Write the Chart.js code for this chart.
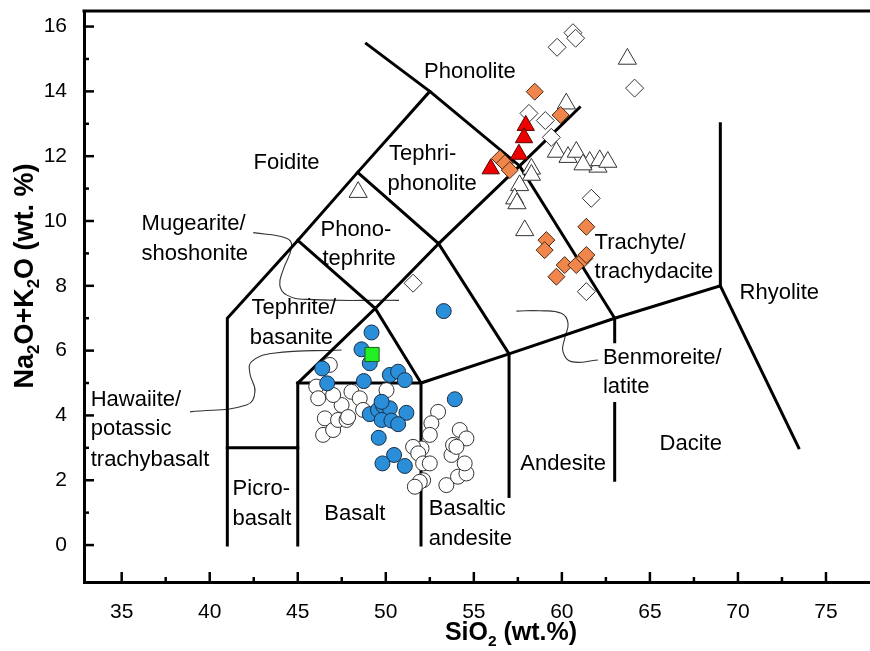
<!DOCTYPE html>
<html><head><meta charset="utf-8">
<script src="https://cdn.jsdelivr.net/npm/chart.js@4"></script>
<style>html,body{margin:0;padding:0;background:#fff}#wrap{width:870px;height:651px;position:relative}</style>
</head><body><div id="wrap"><canvas id="c"></canvas></div>
<script>
// ---------- axis ticks ----------
const xTicks = [35,40,45,50,55,60,65,70,75];
const yTicks = [0,2,4,6,8,10,12,14,16];
const xMinorTicks = [37.5,42.5,47.5,52.5,57.5,62.5,67.5,72.5];
const yMinorTicks = [1,3,5,7,9,11,13,15];

// ---------- sample series (SiO2, Na2O+K2O) ----------
const whiteCircles = [
 [46.82,5.56],[46.05,4.89],[46.16,4.53],[46.54,3.91],[46.44,3.40],[47.01,3.55],[47.29,3.86],[47.77,3.86],
 [47.49,4.32],[48.05,4.73],[48.52,4.53],[48.71,4.17],[47.01,4.63],[50.04,4.78],[47.86,3.95],
 [52.97,4.11],[52.59,3.76],[52.50,3.40],[52.03,2.98],[51.55,3.03],[51.84,2.83],[52.12,2.52],[52.50,2.52],
 [52.12,2.00],[51.93,1.95],[51.65,1.80],[53.44,1.85],[54.10,2.11],[54.58,2.21],[54.48,2.52],[53.73,2.78],
 [53.82,3.09],[54.20,3.55],[54.58,3.29],[54.01,3.03]
];
const blueCircles = [
 [53.29,7.22],[49.19,6.56],[48.62,6.04],[49.09,5.61],[46.39,5.45],[46.67,4.99],[48.75,5.06],[50.23,5.25],
 [50.70,5.35],[51.08,5.09],[49.09,4.04],[49.56,4.17],[49.85,4.29],[50.23,4.22],[51.17,4.08],[49.76,3.86],
 [50.32,3.84],[50.70,3.73],[49.60,3.31],[50.47,2.78],[49.81,2.52],[51.08,2.44],[53.92,4.50],[49.76,4.42]
];
const greenSquares = [[49.22,5.88]];
const whiteDiamonds = [
 [59.73,15.36],[60.63,15.81],[60.78,15.64],[64.13,14.10],[58.13,13.32],[59.06,13.10],[59.40,12.58],
 [61.67,10.70],[61.39,7.82],[51.55,8.08]
];
const orangeDiamonds = [
 [58.46,13.99],[59.93,13.27],[56.48,11.93],[56.76,11.78],[57.04,11.57],[61.39,9.82],[59.12,9.41],
 [59.02,9.10],[60.16,8.64],[59.69,8.28],[60.82,8.64],[61.29,8.85],[61.39,8.95]
];
const whiteTriangles = [
 [63.72,15.00],[60.25,13.62],[59.69,12.13],[60.35,11.97],[60.82,12.13],[61.58,11.82],[62.05,11.67],[62.15,11.87],
 [62.61,11.82],[61.20,11.74],[58.27,11.61],[58.27,11.42],[57.60,11.10],[57.32,10.69],[57.45,10.54],
 [57.89,9.71],[48.43,10.89]
];
const redTriangles = [[57.95,12.95],[57.85,12.57],[57.56,12.06],[55.96,11.61]];

// ---------- TAS field boundaries ----------
const fieldLines = [
 [[41,0],[41,7],[45,9.4],[48.4,11.5],[52.5,14],[48.9,15.47]],
 [[41,3],[45,3]],
 [[45,0],[45,5],[52,5],[52,0]],
 [[45,5],[49.4,7.3],[52,5]],
 [[45,9.4],[49.4,7.3],[53,9.3],[57,5.9]],
 [[48.4,11.5],[53,9.3],[57.6,11.7],[61,13.5]],
 [[52.5,14],[57.6,11.7],[63,7]],
 [[52,5],[57,5.9],[63,7],[69,8],[73.45,3]],
 [[57,1.5],[57,5.9]],
 [[63,7],[63,6.27]],
 [[63,4.37],[63,2]],
 [[69,8],[69,13]]
];
// ---------- leader curves ----------
const leaderMugearite = [[42.47,9.64],[44.36,9.47],[44.65,9.21],[44.17,8.49],[43.98,8.02],[44.36,7.72],[45.5,7.58],[50.75,7.55]];
const leaderHawaiite = [[38.88,4.11],[42.09,4.32],[42.57,4.73],[42.28,5.30],[42.38,5.66],[43.6,5.92],[47.49,6.02]];
const leaderBenmoreite = [[62.05,5.71],[60.54,5.66],[60.06,5.97],[60.16,6.38],[60.35,6.84],[59.97,7.15],[58.74,7.23],[57.42,7.22]];

// ---------- field names: [text, x, y, align] ----------
const fieldLabels = [
 ['Phonolite',54.78,14.61,'center'],
 ['Foidite',44.36,11.78,'center'],
 ['Tephri-',50.18,12.08,'left'],
 ['phonolite',50.10,11.15,'left'],
 ['Phono-',46.29,9.72,'left'],
 ['tephrite',46.40,8.83,'left'],
 ['Mugearite/',36.13,9.91,'left'],
 ['shoshonite',36.13,8.98,'left'],
 ['Tephrite/',42.38,7.31,'left'],
 ['basanite',42.28,6.38,'left'],
 ['Hawaiite/',33.24,4.49,'left'],
 ['potassic',33.24,3.57,'left'],
 ['trachybasalt',33.24,2.63,'left'],
 ['Picro-',41.30,1.72,'left'],
 ['basalt',41.30,0.81,'left'],
 ['Basalt',48.24,0.96,'center'],
 ['Basaltic',52.44,1.12,'left'],
 ['andesite',52.44,0.19,'left'],
 ['Andesite',57.64,2.51,'left'],
 ['Dacite',65.55,3.12,'left'],
 ['Trachyte/',61.86,9.32,'left'],
 ['trachydacite',61.86,8.43,'left'],
 ['Rhyolite',70.09,7.79,'left'],
 ['Benmoreite/',62.33,5.77,'left'],
 ['latite',62.33,4.88,'left']
];

const FONT = '"Liberation Sans", Arial, Helvetica, sans-serif';
const toXY = a => a.map(p => ({x:p[0], y:p[1]}));

function pts(data, style, r, bg, bc, order){
  return {type:'scatter', data:toXY(data), showLine:false, pointStyle:style, pointRadius:r,
    pointHoverRadius:r, pointBackgroundColor:bg, pointBorderColor:bc, pointBorderWidth:1, order:order};
}
const datasets = [
  pts(greenSquares,'rect',10,'#22f022','#1d5e1d',1),
  pts(blueCircles,'circle',7.5,'#2a8fd8','#1b2f45',2),
  pts(redTriangles,'triangle',10,'#ee0000','#5a0000',3),
  pts(orangeDiamonds,'rectRot',8.5,'#f0864c','#4a2a14',4),
  pts(whiteTriangles,'triangle',10.5,'#ffffff','#333333',5),
  pts(whiteDiamonds,'rectRot',9,'#ffffff','#333333',6),
  pts(whiteCircles,'circle',7.5,'#ffffff','#333333',7)
];
fieldLines.forEach(l => datasets.push({type:'scatter', data:toXY(l), showLine:true, borderColor:'#000',
  borderWidth:3, pointRadius:0, tension:0, order:20, borderCapStyle:'square', borderJoinStyle:'miter'}));
[leaderMugearite, leaderHawaiite, leaderBenmoreite].forEach(l => datasets.push({type:'scatter', data:toXY(l),
  showLine:true, borderColor:'#333', borderWidth:1.1, pointRadius:0, tension:0.45, order:21}));

const decor = {
  id:'decor',
  afterDraw(chart){
    const ctx = chart.ctx, a = chart.chartArea, xs = chart.scales.x, ys = chart.scales.y;
    ctx.save();
    ctx.strokeStyle = '#000'; ctx.lineWidth = 2.5; ctx.lineCap='butt';
    ctx.beginPath(); ctx.lineWidth = 3; ctx.moveTo(a.left-1.5, a.top); ctx.lineTo(a.right, a.top); ctx.stroke();
    ctx.lineWidth = 2.5;
    yTicks.forEach(v => { const p = ys.getPixelForValue(v); ctx.beginPath(); ctx.moveTo(a.left, p); ctx.lineTo(a.left+10, p); ctx.stroke(); });
    yMinorTicks.forEach(v => { const p = ys.getPixelForValue(v); ctx.beginPath(); ctx.moveTo(a.left, p); ctx.lineTo(a.left+5, p); ctx.stroke(); });
    xTicks.forEach(v => { const p = xs.getPixelForValue(v); ctx.beginPath(); ctx.moveTo(p, a.bottom); ctx.lineTo(p, a.bottom-10); ctx.stroke(); });
    xMinorTicks.forEach(v => { const p = xs.getPixelForValue(v); ctx.beginPath(); ctx.moveTo(p, a.bottom); ctx.lineTo(p, a.bottom-5); ctx.stroke(); });
    ctx.fillStyle = '#000'; ctx.font = '22px ' + FONT; ctx.textBaseline = 'middle';
    fieldLabels.forEach(l => { ctx.textAlign = l[3]; ctx.fillText(l[0], xs.getPixelForValue(l[1]), ys.getPixelForValue(l[2])); });
    function rich(parts, size, cx, cy, rot){
      ctx.save(); ctx.translate(cx, cy); if (rot) ctx.rotate(rot);
      ctx.textAlign='left'; ctx.textBaseline='alphabetic';
      let w = 0;
      parts.forEach(p => { ctx.font = 'bold ' + (p[1] ? size*0.62 : size) + 'px ' + FONT; w += ctx.measureText(p[0]).width; });
      let x = -w/2;
      parts.forEach(p => { ctx.font = 'bold ' + (p[1] ? size*0.62 : size) + 'px ' + FONT;
        ctx.fillText(p[0], x, p[1] ? size*0.22 : 0); x += ctx.measureText(p[0]).width; });
      ctx.restore();
    }
    rich([['Na',0],['2',1],['O+K',0],['2',1],['O (wt. %)',0]], 27, 33, 276, -Math.PI/2);
    rich([['SiO',0],['2',1],[' (wt.%)',0]], 25, 511, 640, 0);
    ctx.restore();
  }
};

new Chart(document.getElementById('c'), {
  type:'scatter',
  data:{datasets},
  options:{
    responsive:true, maintainAspectRatio:false, animation:false, events:[],
    layout:{autoPadding:false, padding:{top:11,right:0,bottom:0,left:0}},
    plugins:{legend:{display:false}, tooltip:{enabled:false}},
    scales:{
      x:{type:'linear', min:32.86, max:77.5,
         afterBuildTicks(s){ s.ticks = xTicks.map(v => ({value:v})); },
         afterFit(s){ s.height = 69; s.paddingLeft = 0; s.paddingRight = 0; },
         grid:{display:false}, border:{display:true, color:'#000', width:3},
         ticks:{color:'#000', font:{family:FONT, size:21}, padding:10, maxRotation:0, callback:v => String(v)}},
      y:{type:'linear', min:-1.14, max:16.48,
         afterBuildTicks(s){ s.ticks = yTicks.map(v => ({value:v})); },
         afterFit(s){ s.width = 84; s.paddingTop = 0; s.paddingBottom = 0; },
         grid:{display:false}, border:{display:true, color:'#000', width:3},
         ticks:{color:'#000', font:{family:FONT, size:21}, padding:9, callback:v => String(v)}}
    }
  },
  plugins:[decor]
});
</script></body></html>
